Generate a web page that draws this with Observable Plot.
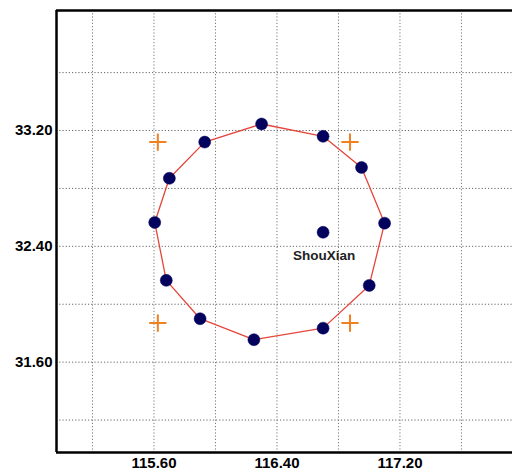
<!DOCTYPE html>
<html>
<head>
<meta charset="utf-8">
<script src="https://cdn.jsdelivr.net/npm/d3@7"></script>
<script src="https://cdn.jsdelivr.net/npm/@observablehq/plot@0.6"></script>
<style>
  html, body { margin: 0; padding: 0; background: #fff; }
  #chart svg { display: block; }
</style>
</head>
<body>
<div id="chart"></div>
<script>
// Ring of stations (closed loop)
const ringLon = [116.30, 116.70, 116.95, 117.10, 117.00, 116.70, 116.25, 115.90, 115.68, 115.605, 115.70, 115.93];
const ringLat = [33.245, 33.16, 32.945, 32.56, 32.13, 31.835, 31.755, 31.90, 32.165, 32.565, 32.87, 33.12];
// Centre station
const centerLon = [116.70];
const centerLat = [32.497];
const centerName = ["ShouXian"];
// Corner markers
const crossLon = [115.625, 116.875, 115.625, 116.875];
const crossLat = [33.12, 33.12, 31.87, 31.87];
// Grid and ticks
const gridX = [115.2, 115.6, 116.0, 116.4, 116.8, 117.2, 117.6];
const gridY = [31.2, 31.6, 32.0, 32.4, 32.8, 33.2, 33.6];
const tickX = [115.6, 116.4, 117.2];
const tickY = [31.6, 32.4, 33.2];
const xDomain = [114.966, 117.932];
const yDomain = [30.976, 34.029];

const ring = ringLon.map((x, i) => ({x, y: ringLat[i]}));
const ringClosed = [...ring, ring[0]];
const center = centerLon.map((x, i) => ({x, y: centerLat[i], name: centerName[i]}));
const crosses = crossLon.map((x, i) => ({x, y: crossLat[i]}));

const chart = Plot.plot({
  width: 512,
  height: 470,
  marginLeft: 56,
  marginRight: 0,
  marginTop: 10,
  marginBottom: 18,
  style: {fontFamily: "'Liberation Sans', Arial, sans-serif", fontSize: "14px", color: "#000", background: "#fff"},
  x: {domain: xDomain, axis: null, label: null},
  y: {domain: yDomain, axis: null, label: null},
  marks: [
    Plot.ruleX(gridX, {stroke: "#777", strokeWidth: 1, strokeDasharray: "1.2,2", strokeOpacity: 1}),
    Plot.ruleY(gridY, {stroke: "#666", strokeWidth: 1, strokeDasharray: "1.2,2", strokeOpacity: 1}),
    Plot.line(ringClosed, {x: "x", y: "y", stroke: "#e5453a", strokeWidth: 1.3}),
    Plot.dot(crosses, {x: "x", y: "y", symbol: "plus", r: 5.6, stroke: "#f08020", strokeWidth: 2}),
    Plot.dot(ring, {x: "x", y: "y", r: 6, fill: "#03035e", stroke: "#03035e", strokeWidth: 0.5}),
    Plot.dot(center, {x: "x", y: "y", r: 6, fill: "#03035e", stroke: "#03035e", strokeWidth: 0.5}),
    Plot.text(center, {x: "x", y: "y", text: "name", dy: 23, dx: 1, fontWeight: "bold", fontSize: 13.5, fill: "#222"}),
    Plot.ruleX([xDomain[0]], {stroke: "#000", strokeWidth: 2.5}),
    Plot.ruleY([yDomain[0], yDomain[1]], {stroke: "#000", strokeWidth: 2.5}),
    Plot.axisX(tickX, {anchor: "bottom", label: null, tickSize: 0, tickPadding: 5, tickFormat: d => d.toFixed(2), fontWeight: "bold", fontSize: 15, fill: "#000"}),
    Plot.axisY(tickY, {anchor: "left", label: null, tickSize: 0, tickPadding: 4, tickFormat: d => d.toFixed(2), fontWeight: "bold", fontSize: 15, fill: "#000"})
  ]
});
document.getElementById("chart").appendChild(chart);
</script>
</body>
</html>
